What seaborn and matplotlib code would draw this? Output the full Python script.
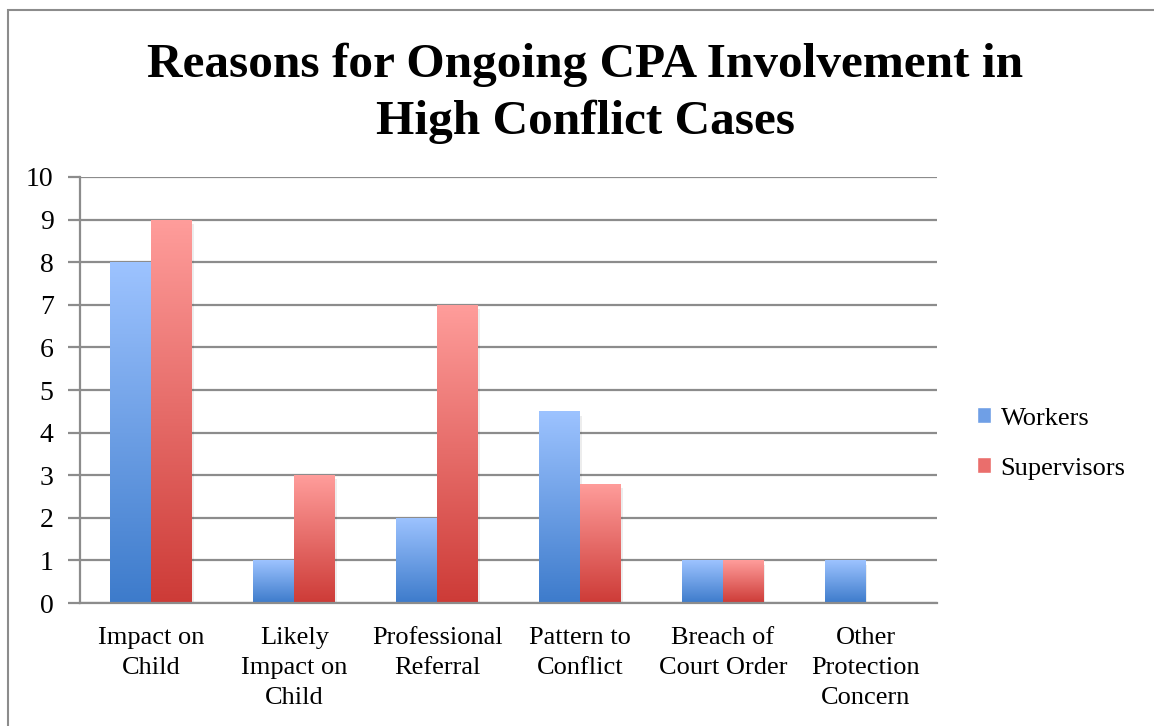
import numpy as np
import pandas as pd
import matplotlib
matplotlib.use("Agg")
import matplotlib.pyplot as plt
import seaborn as sns
from matplotlib.colors import LinearSegmentedColormap
from matplotlib.patches import Rectangle, Patch

categories = ["Impact on\nChild", "Likely\nImpact on\nChild", "Professional\nReferral",
              "Pattern to\nConflict", "Breach of\nCourt Order", "Other\nProtection\nConcern"]
workers = [8, 1, 2, 4.5, 1, 1]
supervisors = [9, 3, 7, 2.8, 1, 0]
series = ["Workers", "Supervisors"]

# gradient ends (bottom, top) for each series
grad = {"Workers": ("#3d7bcb", "#9dc3ff"), "Supervisors": ("#cd3b37", "#ff9d9b")}

df = pd.DataFrame({
    "Category": categories * 2,
    "Series": ["Workers"] * len(categories) + ["Supervisors"] * len(categories),
    "Value": workers + supervisors,
})

sns.set_style("white")
plt.rcParams["font.family"] = ["Liberation Serif", "DejaVu Serif"]
plt.rcParams["text.color"] = "black"
plt.rcParams["xtick.color"] = "black"
plt.rcParams["ytick.color"] = "black"

fig = plt.figure(figsize=(11.54, 7.26), dpi=100)
ax = fig.add_axes([0.0693, 0.1694, 0.7427, 0.5868])

sns.barplot(data=df, x="Category", y="Value", hue="Series", hue_order=series,
            palette=[grad[s][0] for s in series], width=0.574, gap=0,
            ax=ax, legend=False, saturation=1)

gradient = np.linspace(0, 1, 256).reshape(-1, 1)
n = len(categories)
for i, patch in enumerate(ax.patches[:2 * n]):
    s = series[i // n]
    x, w, h = patch.get_x(), patch.get_width(), patch.get_height()
    if h <= 0:
        continue
    patch.set_facecolor("none")
    patch.set_edgecolor("none")
    cmap = LinearSegmentedColormap.from_list(s, grad[s])
    # soft shadow
    ax.add_patch(Rectangle((x + 0.012, -0.1), w, h, facecolor="#000000",
                           alpha=0.07, edgecolor="none", zorder=1.5))
    im = ax.imshow(gradient, extent=[x, x + w, 0, h], origin="lower",
                   aspect="auto", cmap=cmap, zorder=2)
    im.set_clip_path(patch)

ax.set_xlim(-0.5, n - 0.5)
ax.set_ylim(0, 10)
ax.set_yticks(range(0, 11))
ax.yaxis.grid(True, color="#8c8c8c", linewidth=1.6)
ax.set_axisbelow(True)
for side in ["top", "right"]:
    ax.spines[side].set_visible(False)
for side in ["left", "bottom"]:
    ax.spines[side].set_color("#8c8c8c")
    ax.spines[side].set_linewidth(1.6)
ax.tick_params(axis="y", left=True, length=9, width=1.6, color="#8c8c8c",
               labelsize=20, pad=10)
ax.tick_params(axis="x", bottom=False, labelsize=19, pad=14)
for lab in ax.get_xticklabels():
    lab.set_linespacing(1.45)
ax.set_xlabel("")
ax.set_ylabel("")

handles = [Patch(facecolor="#6f9fe6", label="Workers"),
           Patch(facecolor="#ea6e6c", label="Supervisors")]
fig.legend(handles=handles, loc="center left", bbox_to_anchor=(0.826, 0.389),
           frameon=False, fontsize=19, handlelength=0.55, handleheight=0.55,
           handletextpad=0.35, labelspacing=1.05)

fig.text(0.507, 0.872, "Reasons for Ongoing CPA Involvement in\nHigh Conflict Cases",
         ha="center", va="center", fontsize=35.5, fontweight="bold", linespacing=1.36)

fig.add_artist(Rectangle((0.007, -0.01), 1.1, 0.996, transform=fig.transFigure,
                         facecolor="none", edgecolor="#8c8c8c", linewidth=1.5))

fig.savefig("out.png", dpi=100)
